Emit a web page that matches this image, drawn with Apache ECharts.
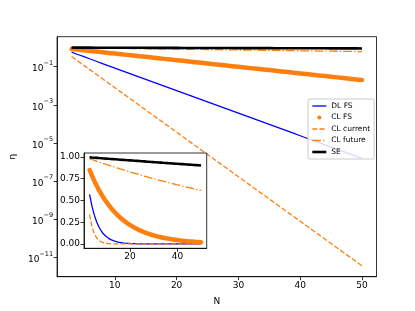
<!DOCTYPE html>
<html><head><meta charset="utf-8">
<script src="https://cdn.jsdelivr.net/npm/echarts@6/dist/echarts.min.js"></script>
<style>html,body{margin:0;padding:0;background:#fff}#c{width:415px;height:311px}</style>
</head><body><div id="c"></div>
<script>
const N = [3,4,5,6,7,8,9,10,11,12,13,14,15,16,17,18,19,20,21,22,23,24,25,26,27,28,29,30,31,32,33,34,35,36,37,38,39,40,41,42,43,44,45,46,47,48,49,50];
const dlFS = [0.570,0.434,0.331,0.252,0.192,0.146,0.111,0.0847,0.0645,0.0491,0.0374,0.0285,0.0217,0.0165,0.0126,0.00958,0.00730,0.00556,0.00423,0.00322,0.00245,0.00187,0.00142,0.00108,0.000825,0.000629,0.000479,0.000365,0.000278,0.000211,0.000161,0.000123,9.34e-5,7.11e-5,5.42e-5,4.12e-5,3.14e-5,2.39e-5,1.82e-5,1.39e-5,1.06e-5,8.04e-6,6.13e-6,4.67e-6,3.55e-6,2.71e-6,2.06e-6,1.57e-6];
const clFS = [0.850,0.785,0.724,0.669,0.617,0.570,0.526,0.486,0.448,0.414,0.382,0.353,0.326,0.301,0.278,0.256,0.237,0.219,0.202,0.186,0.172,0.159,0.147,0.135,0.125,0.115,0.106,0.0983,0.0908,0.0838,0.0774,0.0714,0.0659,0.0609,0.0562,0.0519,0.0479,0.0442,0.0408,0.0377,0.0348,0.0321,0.0296,0.0274,0.0253,0.0233,0.0215,0.0199];
const clCurrent = [0.340,0.199,0.116,0.0678,0.0396,0.0231,0.0135,0.00790,0.00462,0.00270,0.00158,0.000921,0.000538,0.000314,0.000184,0.000107,6.27e-5,3.66e-5,2.14e-5,1.25e-5,7.30e-6,4.27e-6,2.49e-6,1.46e-6,8.51e-7,4.97e-7,2.90e-7,1.70e-7,9.91e-8,5.79e-8,3.38e-8,1.98e-8,1.16e-8,6.75e-9,3.94e-9,2.30e-9,1.35e-9,7.86e-10,4.60e-10,2.69e-10,1.57e-10,9.17e-11,5.36e-11,3.13e-11,1.83e-11,1.07e-11,6.24e-12,3.65e-12];
const clFuture = [0.980,0.9703,0.9608,0.9513,0.9419,0.9326,0.9234,0.9143,0.9053,0.8964,0.8875,0.8788,0.8701,0.8615,0.8530,0.8446,0.8363,0.8281,0.8199,0.8118,0.8038,0.7959,0.7880,0.7803,0.7726,0.7649,0.7574,0.7499,0.7425,0.7352,0.7280,0.7208,0.7137,0.7066,0.6997,0.6928,0.6859,0.6792,0.6725,0.6658,0.6593,0.6528,0.6463,0.6400,0.6337,0.6274,0.6212,0.6151];
const SE = [0.9950,0.9929,0.9909,0.9888,0.9867,0.9847,0.9826,0.9806,0.9785,0.9765,0.9744,0.9724,0.9704,0.9683,0.9663,0.9643,0.9623,0.9603,0.9583,0.9563,0.9543,0.9523,0.9503,0.9483,0.9463,0.9444,0.9424,0.9404,0.9385,0.9365,0.9346,0.9326,0.9307,0.9287,0.9268,0.9249,0.9229,0.9210,0.9191,0.9172,0.9153,0.9134,0.9115,0.9096,0.9077,0.9058,0.9039,0.9020];
const xTicksMain = [10,20,30,40,50];
const yTicksMain = [1e-1,1e-3,1e-5,1e-7,1e-9,1e-11];
const xTicksInset = [20,40];
const yTicksInset = [0,0.25,0.5,0.75,1];
const names = ['DL FS','CL FS','CL current','CL future','SE'];

const pairs = arr => N.map((n,i)=>[n,arr[i]]);
const FONT = 'DejaVu Sans';
const lbl = {color:'#000', fontSize:9, fontFamily:FONT};
const tick = {show:true, inside:false, length:3.5, lineStyle:{color:'#000', width:0.8}};
const axLine = {show:true, onZero:false, lineStyle:{color:'#000', width:0.8}};
const ORANGE = '#ff7f0e';
const dash = [5,2.2], dashDot = [8.6,2.2,1.3,2.2];

function mk(gi, z){
  const xi = gi, yi = gi;
  return [
    {name:names[0], type:'line', xAxisIndex:xi, yAxisIndex:yi, data:pairs(dlFS), symbol:'none', z:z, clip:true,
      lineStyle:{color:'#0000ff', width:1.3}, itemStyle:{color:'#0000ff'}},
    {name:names[1], type:'line', xAxisIndex:xi, yAxisIndex:yi, data:pairs(clFS), symbol:'none', z:z, clip:true,
      lineStyle:{color:ORANGE, width:4.5, cap:'round', join:'round'}, itemStyle:{color:ORANGE}},
    {name:names[2], type:'line', xAxisIndex:xi, yAxisIndex:yi, data:pairs(clCurrent), symbol:'none', z:z, clip:true,
      lineStyle:{color:ORANGE, width:1.3, type:dash}, itemStyle:{color:ORANGE}},
    {name:names[3], type:'line', xAxisIndex:xi, yAxisIndex:yi, data:pairs(clFuture), symbol:'none', z:z, clip:true,
      lineStyle:{color:ORANGE, width:1.3, type:dashDot}, itemStyle:{color:ORANGE}},
    {name:names[4], type:'line', xAxisIndex:xi, yAxisIndex:yi, data:pairs(SE), symbol:'none', z:z, clip:true,
      lineStyle:{color:'#000', width:2.6}, itemStyle:{color:'#000'}}
  ];
}

const chart = echarts.init(document.getElementById('c'), null, {renderer:'canvas'});
chart.setOption({
  animation:false,
  backgroundColor:'#fff',
  grid:[
    {left:51.7, right:38.5, top:36.7, bottom:34.3, show:true, borderColor:'#000', borderWidth:0.8, backgroundColor:'#fff', z:0},
    {left:84, right:208.3, top:153, bottom:62.7, show:true, borderColor:'#000', borderWidth:0.8, backgroundColor:'#fff', z:5}
  ],
  xAxis:[
    {type:'value', gridIndex:0, min:0.65, max:52.35, name:'N', nameLocation:'middle', nameGap:20,
      nameTextStyle:{color:'#000', fontSize:9, fontFamily:FONT},
      axisLine:axLine, splitLine:{show:false},
      axisTick:Object.assign({}, tick, {customValues:xTicksMain}),
      axisLabel:Object.assign({}, lbl, {customValues:xTicksMain, margin:4})},
    {type:'value', gridIndex:1, min:0.65, max:52.35, z:6,
      axisLine:axLine, splitLine:{show:false},
      axisTick:Object.assign({}, tick, {customValues:xTicksInset}),
      axisLabel:Object.assign({}, lbl, {customValues:xTicksInset, margin:4})}
  ],
  yAxis:[
    {type:'log', gridIndex:0, min:Math.pow(10,-12.01), max:Math.pow(10,0.57), name:'η', nameLocation:'middle', nameGap:38, nameRotate:90,
      nameTextStyle:{color:'#000', fontSize:9, fontFamily:FONT},
      axisLine:axLine, splitLine:{show:false}, minorTick:{show:false},
      axisTick:Object.assign({}, tick, {customValues:yTicksMain}),
      axisLabel:Object.assign({}, lbl, {customValues:yTicksMain, margin:4,
        formatter:v=>'{b|10}{e|−'+Math.round(-Math.log10(v))+'}',
        rich:{b:{fontSize:9, fontFamily:FONT, color:'#000', lineHeight:14, verticalAlign:'bottom'},
              e:{fontSize:6.5, fontFamily:FONT, color:'#000', lineHeight:14, verticalAlign:'top'}}})},
    {type:'value', gridIndex:1, min:-0.05, max:1.045, z:6,
      axisLine:axLine, splitLine:{show:false},
      axisTick:Object.assign({}, tick, {customValues:yTicksInset}),
      axisLabel:Object.assign({}, lbl, {customValues:yTicksInset, margin:4, formatter:v=>v.toFixed(2)})}
  ],
  legend:{
    orient:'vertical', left:308, top:99, z:20,
    padding:[3,4,3,3], itemGap:3.5, itemWidth:14, itemHeight:5, itemTextGap:5,
    backgroundColor:'rgba(255,255,255,0.85)', borderColor:'#cccccc', borderWidth:1, borderRadius:2,
    textStyle:{color:'#000', fontSize:7.5, fontFamily:FONT},
    data:[
      {name:names[0], itemStyle:{opacity:0}, lineStyle:{width:1.3}},
      {name:names[1], lineStyle:{opacity:0}},
      {name:names[2], itemStyle:{opacity:0}, lineStyle:{width:1.3}},
      {name:names[3], itemStyle:{opacity:0}, lineStyle:{width:1.3}},
      {name:names[4], itemStyle:{opacity:0}, lineStyle:{width:2.6}}
    ]
  },
  series:[].concat(mk(0,2), mk(1,8))
});
</script></body></html>
